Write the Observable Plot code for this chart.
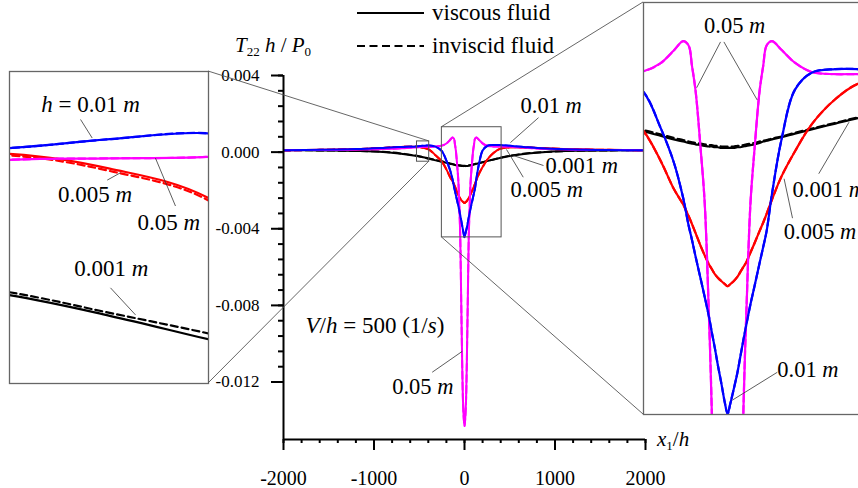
<!DOCTYPE html>
<html>
<head>
<meta charset="utf-8">
<script src="https://cdn.jsdelivr.net/npm/d3@7"></script>
<script src="https://cdn.jsdelivr.net/npm/@observablehq/plot@0.6"></script>
<style>
  html, body { margin: 0; padding: 0; background: #fff; }
  #chart { position: relative; width: 858px; height: 488px; overflow: hidden; background: #fff; color: #000; }
  #chart, #chart * { font-family: 'Liberation Serif'; }
  .lab { position: absolute; white-space: nowrap; font-size: 21px; line-height: 1; }
  .lab sub { font-size: 13px; vertical-align: -4px; font-style: normal; }
</style>
</head>
<body>
<div id="chart"></div>
<script>
// Normalised stress T22 h / P0 along x1/h, for four layer thicknesses h
const x1h = [-2000, -1600, -1200, -900, -700, -525, -457, -390, -320, -250, -200, -160, -132, -116, -106, -95,
  -80, -68, -56, -47, -38, -29, -18, -8, 0, 8, 18, 29, 38, 47, 56, 68, 80, 95, 106, 116, 132, 160, 200, 250,
  320, 390, 500, 700, 900, 1200, 1600, 2000];

// h = 0.001 m
const tViscous001 = [0.00010, 0.00009, 0.00006, 0.00001, -0.00008, -0.00020, -0.00027, -0.00035, -0.00043, -0.00050,
  -0.00056, -0.00061, -0.00064, -0.00066, -0.00067, -0.00068, -0.00069, -0.00070, -0.00071, -0.00071, -0.00072,
  -0.00072, -0.00073, -0.00073, -0.00073, -0.00073, -0.00073, -0.00072, -0.00072, -0.00071, -0.00070, -0.00069,
  -0.00068, -0.00066, -0.00064, -0.00063, -0.00061, -0.00058, -0.00053, -0.00047, -0.00039, -0.00031, -0.00020,
  -0.00007, 0.00001, 0.00007, 0.00009, 0.00010];
const tInviscid001 = [0.00010, 0.00009, 0.00006, 0.00002, -0.00007, -0.00019, -0.00026, -0.00033, -0.00041, -0.00048,
  -0.00054, -0.00059, -0.00062, -0.00064, -0.00065, -0.00066, -0.00067, -0.00068, -0.00069, -0.00069, -0.00070,
  -0.00070, -0.00071, -0.00071, -0.00071, -0.00071, -0.00071, -0.00070, -0.00070, -0.00069, -0.00068, -0.00067,
  -0.00066, -0.00064, -0.00063, -0.00062, -0.00060, -0.00057, -0.00052, -0.00046, -0.00038, -0.00030, -0.00019,
  -0.00006, 0.00001, 0.00007, 0.00009, 0.00010];

// h = 0.005 m
const tViscous005 = [0.00010, 0.00012, 0.00016, 0.00022, 0.00027, 0.00028, 0.00023, 0.00013, -0.00016, -0.00049,
  -0.00090, -0.00130, -0.00152, -0.00168, -0.00179, -0.00192, -0.00210, -0.00223, -0.00235, -0.00242, -0.00249,
  -0.00254, -0.00259, -0.00263, -0.00266, -0.00263, -0.00259, -0.00253, -0.00246, -0.00239, -0.00232, -0.00219,
  -0.00206, -0.00189, -0.00177, -0.00165, -0.00145, -0.00113, -0.00078, -0.00040, -0.00005, 0.00017, 0.00025,
  0.00024, 0.00020, 0.00015, 0.00012, 0.00010];
const tInviscid005 = [0.00010, 0.00012, 0.00016, 0.00022, 0.00027, 0.000275, 0.000222, 0.000122, -0.00017, -0.00050,
  -0.00090, -0.00130, -0.00152, -0.00168, -0.00179, -0.00192, -0.00210, -0.00223, -0.00235, -0.00242, -0.00249,
  -0.00254, -0.00259, -0.00263, -0.00266, -0.00263, -0.00259, -0.00253, -0.00246, -0.00239, -0.00232, -0.00219,
  -0.00206, -0.00189, -0.00177, -0.00165, -0.00145, -0.00113, -0.00078, -0.00040, -0.00005, 0.00017, 0.00025,
  0.00024, 0.00020, 0.00015, 0.00012, 0.00010];

// h = 0.01 m
const tViscous01 = [0.00010, 0.00012, 0.00016, 0.00022, 0.00027, 0.00030, 0.00033, 0.00035, 0.00029, 0.00005,
  -0.00044, -0.00093, -0.00143, -0.00181, -0.00201, -0.00225, -0.00256, -0.00281, -0.00307, -0.00330, -0.00352,
  -0.00376, -0.00403, -0.00429, -0.00444, -0.00430, -0.00410, -0.00387, -0.00364, -0.00341, -0.00319, -0.00291,
  -0.00266, -0.00234, -0.00211, -0.00189, -0.00137, -0.00062, 0.00008, 0.00032, 0.00037, 0.00037, 0.00033,
  0.00025, 0.00019, 0.00014, 0.00011, 0.00010];
const tInviscid01 = tViscous01.slice(); // indistinguishable from the viscous curve

// h = 0.05 m
const tViscous05 = [0.00010, 0.00011, 0.00013, 0.00016, 0.00020, 0.00026, 0.000265, 0.00027, 0.00030, 0.00034,
  0.00045, 0.00063, 0.00076, 0.00070, 0.00042, 0.00006, -0.00075, -0.00150, -0.00300, -0.00440, -0.00720,
  -0.01000, -0.01280, -0.01390, -0.01430, -0.01390, -0.01280, -0.01000, -0.00720, -0.00440, -0.00300, -0.00150,
  -0.00075, 0.00006, 0.00042, 0.00070, 0.00076, 0.00064, 0.00046, 0.00033, 0.00030, 0.00030, 0.00028,
  0.00022, 0.00017, 0.00013, 0.00011, 0.00010];
const tInviscid05 = tViscous05.slice(); // indistinguishable from the viscous curve

// Axis ticks
const xTicks = [-2000, -1000, 0, 1000, 2000];
const xTickLabels = ["-2000", "-1000", "0", "1000", "2000"];
const yTicks = [0.004, 0, -0.004, -0.008, -0.012];
const yTickLabels = ["0.004", "0.000", "-0.004", "-0.008", "-0.012"];

// Zoom windows (data units) shown in the two insets
const leftWindowX = [-525, -390];
const leftWindowY = [-0.0005, 0.00056];
const rightWindowX = [-250, 410];
const rightWindowY = [-0.00445, 0.0013];

// Series, in drawing order
const seriesList = [
  {h: "0.001", color: "#000000", viscous: tViscous001, inviscid: tInviscid001},
  {h: "0.005", color: "#ff0000", viscous: tViscous005, inviscid: tInviscid005},
  {h: "0.05", color: "#ff00ff", viscous: tViscous05, inviscid: tInviscid05},
  {h: "0.01", color: "#0000ff", viscous: tViscous01, inviscid: tInviscid01}
];

// Annotations (data units of each panel); _x_ marks italic text
const mainLabels = [
  {x: 619, y: 0.00243, text: "0.01 _m_", anchor: "start", size: 22.5},
  {x: 895, y: -0.00070, text: "0.001 _m_", anchor: "start", size: 22.5},
  {x: 508, y: -0.00195, text: "0.005 _m_", anchor: "start", size: 22.5},
  {x: -122, y: -0.01226, text: "0.05 _m_", anchor: "end", size: 22.5},
  {x: -1757, y: -0.00905, text: "_V_/_h_ = 500 (1/_s_)", anchor: "start", size: 23}
];
const mainLeaders = [
  {x1: 818, y1: 0.0018, x2: 508, y2: 0.0005},
  {x1: 873, y1: -0.0007, x2: 541, y2: -0.00018},
  {x1: 649, y1: -0.00131, x2: 464, y2: 0.00014},
  {x1: -357, y1: -0.01149, x2: -25, y2: -0.0104}
];
const rightLabels = [
  {x: 21, y: 0.00097, text: "0.05 _m_", anchor: "middle", size: 22.5},
  {x: 193, y: -0.00132, text: "0.001 _m_", anchor: "start", size: 22.5},
  {x: 167, y: -0.00190, text: "0.005 _m_", anchor: "start", size: 22.5},
  {x: 148, y: -0.00382, text: "0.01 _m_", anchor: "start", size: 22.5}
];
const rightLeaders = [
  {x1: -21, y1: 0.00075, x2: -92, y2: 0.00011},
  {x1: -11, y1: 0.00075, x2: 88, y2: -0.00006},
  {x1: 271, y1: -0.00109, x2: 361, y2: -0.00037},
  {x1: 193, y1: -0.00171, x2: 168, y2: -0.00116},
  {x1: 148, y1: -0.00386, x2: 14, y2: -0.00425}
];
const leftLabels = [
  {x: -470, y: 0.000446, text: "_h_ = 0.01 _m_", anchor: "middle", size: 23},
  {x: -467, y: 0.000141, text: "0.005 _m_", anchor: "middle", size: 23},
  {x: -417, y: 0.000047, text: "0.05 _m_", anchor: "middle", size: 23},
  {x: -456, y: -0.000111, text: "0.001 _m_", anchor: "middle", size: 23}
];
const leftLeaders = [
  {x1: -476.8, y1: 0.000397, x2: -468.9, y2: 0.000334},
  {x1: -458.7, y1: 0.000191, x2: -449.7, y2: 0.000216},
  {x1: -412.4, y1: 0.000103, x2: -426, y2: 0.000266},
  {x1: -456.5, y1: -0.000175, x2: -439.5, y2: -0.000267}
];

// Layout of the panels (pixels)
const FONT = "Liberation Serif";
const leftInset = {left: 9, top: 71, width: 199, height: 312};
const rightInset = {left: 643, top: 2, width: 222, height: 412};

const chart = document.getElementById("chart");
const SVGNS = "http://www.w3.org/2000/svg";

function place(node, left, top) {
  node.style.position = "absolute";
  node.style.left = left + "px";
  node.style.top = top + "px";
  chart.appendChild(node);
  return node;
}

// serif everywhere, and _…_ segments turned into italic tspans
function finishText(svg) {
  svg.setAttribute("font-family", FONT);
  svg.querySelectorAll("text").forEach(el => {
    el.setAttribute("font-family", FONT);
    const s = el.textContent;
    if (!s.includes("_")) return;
    el.textContent = "";
    s.split("_").forEach((part, i) => {
      if (!part) return;
      const t = document.createElementNS(SVGNS, "tspan");
      t.textContent = part;
      if (i % 2) t.setAttribute("font-style", "italic");
      el.appendChild(t);
    });
  });
}

const rows = values => x1h.map((x, i) => ({x, t: values[i]}));

function curveMarks(width) {
  const marks = [];
  for (const s of seriesList)
    marks.push(Plot.line(rows(s.inviscid), {x: "x", y: "t", stroke: s.color, strokeWidth: width,
      strokeDasharray: "7,4", curve: "catmull-rom", clip: true}));
  for (const s of seriesList)
    marks.push(Plot.line(rows(s.viscous), {x: "x", y: "t", stroke: s.color, strokeWidth: width,
      curve: "catmull-rom", clip: true}));
  return marks;
}

function noteMarks(labels, leaders) {
  return [
    Plot.link(leaders, {x1: "x1", y1: "y1", x2: "x2", y2: "y2", stroke: "#333", strokeWidth: 0.8}),
    ...labels.map(d =>
      Plot.text([d], {x: "x", y: "y", text: "text", textAnchor: d.anchor, fontSize: d.size, fill: "#000"}))
  ];
}

// ---- main panel ----
const xMinor = d3.range(-2000, 2001, 200);
const yMinor = d3.range(0, 21).map(i => 0.004 - i * 0.0008).filter(v => v >= -0.0150);

const main = Plot.plot({
  width: 858, height: 488,
  marginLeft: 283, marginRight: 213, marginTop: 75, marginBottom: 49,
  x: {domain: [-2000, 2000]},
  y: {domain: [-0.015, 0.004]},
  style: {color: "#000", background: "transparent", overflow: "visible"},
  marks: [
    ...curveMarks(2),
    Plot.rect([{x1: leftWindowX[0], x2: leftWindowX[1], y1: leftWindowY[0], y2: leftWindowY[1]},
               {x1: rightWindowX[0], x2: rightWindowX[1], y1: rightWindowY[0], y2: rightWindowY[1]}],
      {x1: "x1", x2: "x2", y1: "y1", y2: "y2", fill: "none", stroke: "#555", strokeWidth: 1}),
    ...noteMarks(mainLabels, mainLeaders),
    Plot.ruleX([-2000], {stroke: "#000", strokeWidth: 2}),
    Plot.ruleY([-0.015], {stroke: "#000", strokeWidth: 2}),
    Plot.axisX(xMinor, {anchor: "bottom", tickSize: 4, strokeWidth: 2, tickFormat: () => "", label: null}),
    Plot.axisX(xTicks, {anchor: "bottom", tickSize: 11, tickPadding: 20, strokeWidth: 2, fontSize: 20,
      tickFormat: d => xTickLabels[xTicks.indexOf(d)], label: null}),
    Plot.axisY(yMinor, {anchor: "left", tickSize: 5, strokeWidth: 2, tickFormat: () => "", label: null}),
    Plot.axisY(yTicks, {anchor: "left", tickSize: 12, tickPadding: 12, strokeWidth: 2, fontSize: 17,
      tickFormat: d => yTickLabels[yTicks.indexOf(d)], label: null})
  ]
});
finishText(main);
place(main, 0, 0);

// ---- insets ----
function inset(box, xd, yd, labels, leaders) {
  const p = Plot.plot({
    width: box.width, height: box.height,
    marginLeft: 0, marginRight: 0, marginTop: 0, marginBottom: 0,
    x: {domain: xd, axis: null},
    y: {domain: yd, axis: null},
    style: {color: "#000", background: "#fff", overflow: "visible"},
    marks: [
      ...curveMarks(2.2),
      ...noteMarks(labels, leaders),
      Plot.frame({stroke: "#666", strokeWidth: 1.3})
    ]
  });
  finishText(p);
  return place(p, box.left, box.top);
}
inset(leftInset, leftWindowX, leftWindowY, leftLabels, leftLeaders);
inset(rightInset, rightWindowX, rightWindowY, rightLabels, rightLeaders);

// ---- connectors, legend ----
const sx = main.scale("x"), sy = main.scale("y");
const overlay = d3.create("svg").attr("width", 858).attr("height", 488)
  .style("position", "absolute").style("left", "0px").style("top", "0px").style("overflow", "visible");
const connectors = [
  [sx.apply(leftWindowX[1]), sy.apply(leftWindowY[1]), leftInset.left + leftInset.width, leftInset.top],
  [sx.apply(leftWindowX[1]), sy.apply(leftWindowY[0]), leftInset.left + leftInset.width, leftInset.top + leftInset.height],
  [sx.apply(rightWindowX[0]), sy.apply(rightWindowY[1]), rightInset.left, rightInset.top],
  [sx.apply(rightWindowX[0]), sy.apply(rightWindowY[0]), rightInset.left, rightInset.top + rightInset.height]
];
overlay.selectAll("line.conn").data(connectors).join("line")
  .attr("x1", d => d[0]).attr("y1", d => d[1]).attr("x2", d => d[2]).attr("y2", d => d[3])
  .attr("stroke", "#555").attr("stroke-width", 0.9);

const legendItems = [
  {text: "viscous fluid", dash: null, y: 13},
  {text: "inviscid fluid", dash: "8,4.5", y: 46}
];
const lg = overlay.append("g").attr("font-size", 23);
lg.selectAll("line").data(legendItems).join("line")
  .attr("x1", 357).attr("x2", 424).attr("y1", d => d.y).attr("y2", d => d.y)
  .attr("stroke", "#000").attr("stroke-width", 2.2).attr("stroke-dasharray", d => d.dash);
lg.selectAll("text").data(legendItems).join("text")
  .attr("x", 432).attr("y", d => d.y).attr("dy", "0.32em").text(d => d.text);
finishText(overlay.node());
place(overlay.node(), 0, 0);

// ---- axis titles ----
const yTitle = document.createElement("div");
yTitle.className = "lab";
yTitle.innerHTML = "<i>T</i><sub>22</sub> <i>h</i> / <i>P</i><sub>0</sub>";
place(yTitle, 235, 35);
const xTitle = document.createElement("div");
xTitle.className = "lab";
xTitle.innerHTML = "<i>x</i><sub>1</sub>/<i>h</i>";
place(xTitle, 657, 429);
</script>
</body>
</html>
